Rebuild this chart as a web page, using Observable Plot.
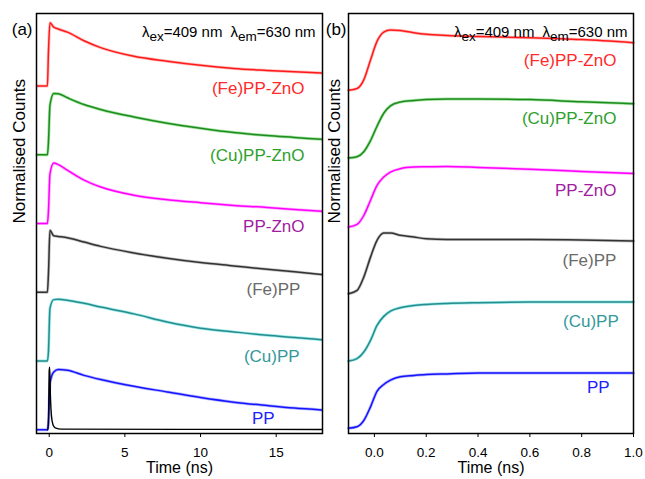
<!DOCTYPE html>
<html><head><meta charset="utf-8">
<script src="https://cdn.jsdelivr.net/npm/d3@7"></script>
<script src="https://cdn.jsdelivr.net/npm/@observablehq/plot@0.6"></script>
<style>
html,body{margin:0;padding:0;background:#fff;}
#wrap{position:relative;width:645px;height:479px;overflow:hidden;font-family:"Liberation Sans",Arial,sans-serif;}
#wrap > svg{position:absolute;top:0;}
</style></head><body><div id="wrap"></div>
<script>
// series order, bottom to top
const series = ["PP", "(Cu)PP", "(Fe)PP", "PP-ZnO", "(Cu)PP-ZnO", "(Fe)PP-ZnO"];
const fitColors = ["#1414ff", "#2a8c8c", "#333333", "#ff00ff", "#1e8c1e", "#ff1a1a"];
const rawColors = ["#5a5aff", "#1ad0d0", "#7a7a7a", "#ff55ff", "#33c033", "#ff6a6a"];
const labelColors = ["#2020ff", "#339999", "#6a6a6a", "#a01ca0", "#2ea02e", "#ff2a2a"];

// Panel (a): time-resolved decays, 0-18 ns
const timeA = [-0.8, -0.12, -0.05, 0.05, 0.3, 0.6, 1.2, 2.3, 3.4, 5.6, 7.8, 10, 12.2, 14.4, 16.2, 18];
const decayPP     = [0, 0, 0.10, 0.75, 0.93, 0.97, 0.96, 0.877, 0.81, 0.70, 0.61, 0.52, 0.445, 0.39, 0.35, 0.32];
const decayCuPP   = [0, 0, 0.15, 0.85, 0.99, 0.995, 0.98, 0.93, 0.87, 0.76, 0.63, 0.53, 0.47, 0.415, 0.38, 0.344];
const decayFePP   = [0, 0, 0.30, 1.00, 0.91, 0.90, 0.88, 0.81, 0.74, 0.635, 0.55, 0.48, 0.425, 0.37, 0.33, 0.285];
const decayPPZnO  = [0, 0, 0.20, 0.80, 0.976, 0.95, 0.86, 0.70, 0.59, 0.457, 0.385, 0.336, 0.293, 0.26, 0.225, 0.197];
const decayCuZnO  = [0, 0, 0.20, 0.80, 0.99, 0.985, 0.92, 0.81, 0.73, 0.61, 0.51, 0.43, 0.36, 0.31, 0.28, 0.25];
const decayFeZnO  = [0, 0, 0.55, 1.02, 0.95, 0.92, 0.87, 0.73, 0.62, 0.48, 0.40, 0.334, 0.285, 0.253, 0.23, 0.21];
const timeIRF = [-0.12, -0.08, -0.03, 0.0, 0.03, 0.08, 0.15, 0.25, 0.4, 0.8, 18];
const valIRF  = [0, 0, 0.4, 0.95, 1.01, 0.55, 0.22, 0.08, 0.03, 0.01, 0.005];

// Panel (b): rise region, -0.1 to 1.0 ns
const timeB = [-0.1, -0.067, -0.041, -0.015, 0.01, 0.036, 0.062, 0.1, 0.152, 0.2, 0.28, 0.4, 0.6, 0.8, 1.0];
const risePP     = [0.026, 0.05, 0.15, 0.37, 0.62, 0.73, 0.80, 0.855, 0.875, 0.89, 0.90, 0.915, 0.915, 0.915, 0.915];
const riseCuPP   = [0, 0.04, 0.145, 0.333, 0.574, 0.72, 0.805, 0.86, 0.895, 0.912, 0.928, 0.94, 0.95, 0.95, 0.95];
const riseFePP   = [-0.023, 0.03, 0.245, 0.567, 0.837, 0.955, 0.955, 0.918, 0.89, 0.865, 0.853, 0.853, 0.853, 0.845, 0.826];
const risePPZnO  = [-0.056, -0.013, 0.13, 0.375, 0.615, 0.75, 0.83, 0.885, 0.91, 0.915, 0.92, 0.905, 0.875, 0.84, 0.805];
const riseCuZnO  = [-0.05, -0.03, 0.05, 0.23, 0.46, 0.67, 0.79, 0.85, 0.875, 0.89, 0.90, 0.90, 0.89, 0.855, 0.825];
const riseFeZnO  = [-0.068, -0.04, 0.10, 0.42, 0.72, 0.87, 0.905, 0.895, 0.86, 0.835, 0.815, 0.80, 0.78, 0.75, 0.70];

// label anchors (data units: time, height above each trace's baseline)
const labelTimeA = [14.9, 16.55, 16.6, 16.87, 16.87, 16.87];
const labelLevelA = [0.177, 0.077, 0.047, -0.053, -0.01, -0.04];
const labelTimeB = [0.908, 0.943, 0.934, 0.934, 0.934, 0.934];
const labelLevelB = [0.688, 0.64, 0.515, 0.535, 0.584, 0.416];

const ticksA = [0, 5, 10, 15];
const ticksB = [0, 0.2, 0.4, 0.6, 0.8, 1.0];
const ANNOT = "λex=409 nm λem=630 nm";

const step = 1.108;
const yDomain = [-0.06, 6.71];
const FONT = "'Liberation Sans', Arial, sans-serif";

function rows(times, vals, i) { return times.map((t, k) => ({t, y: i * step + vals[k]})); }

function panel(o) {
  const marks = [];
  o.curves.forEach((vals, i) => {
    const d = rows(o.times, vals, i);
    marks.push(Plot.line(d, {x: "t", y: "y", stroke: rawColors[i], strokeWidth: 3, strokeOpacity: 0.45, curve: "monotone-x"}));
    marks.push(Plot.line(d, {x: "t", y: "y", stroke: fitColors[i], strokeWidth: 1.5, curve: "monotone-x"}));
  });
  if (o.irf) marks.push(Plot.line(rows(timeIRF, valIRF, 0), {x: "t", y: "y", stroke: "#000", strokeWidth: 1.4, curve: "monotone-x"}));
  const lab = series.map((s, i) => ({s, x: o.labelX[i], y: i * step + o.labelY[i], c: labelColors[i]}));
  marks.push(Plot.text(lab, {x: "x", y: "y", text: "s", fill: "c", textAnchor: "end", fontSize: 17}));
  marks.push(Plot.frame({stroke: "#000", strokeWidth: 1.5}));
  marks.push(Plot.axisX({ticks: o.ticks, tickFormat: o.fmt, tickSize: 4, tickPadding: 10, fontSize: 13.5, label: null}));
  marks.push(Plot.text(["Time (ns)"], {frameAnchor: "bottom", dy: 39.5, fontSize: 16}));
  marks.push(Plot.text(["Normalised Counts"], {frameAnchor: "left", rotate: -90, dx: o.yLabDx, fontSize: 17}));
  marks.push(Plot.text([o.tag], {frameAnchor: "top-left", textAnchor: "end", dx: o.tagDx, dy: 9, fontSize: 17}));
  marks.push(Plot.text([ANNOT], {frameAnchor: "top-right", textAnchor: "end", dx: o.annDx, dy: 13, fontSize: 15}));
  const svg = Plot.plot({
    width: o.width, height: 479,
    marginLeft: o.marginLeft, marginRight: o.marginRight, marginTop: 13, marginBottom: 46,
    x: {domain: o.xDomain},
    y: {domain: yDomain, axis: null},
    color: {type: "identity"},
    style: {fontFamily: FONT, background: "transparent", overflow: "visible", color: "#000"},
    marks
  });
  d3.select(svg).selectAll("text").filter(function () { return this.textContent === ANNOT; }).each(function () {
    const t = d3.select(this);
    t.text(null);
    t.append("tspan").text("λ");
    t.append("tspan").attr("dy", 4).attr("font-size", 13.5).text("ex");
    t.append("tspan").attr("dy", -4).text("=409 nm");
    t.append("tspan").attr("dx", 8).text("λ");
    t.append("tspan").attr("dy", 4).attr("font-size", 13.5).text("em");
    t.append("tspan").attr("dy", -4).text("=630 nm");
  });
  svg.style.left = o.left + "px";
  return svg;
}

const wrap = document.getElementById("wrap");
wrap.appendChild(panel({
  times: timeA, curves: [decayPP, decayCuPP, decayFePP, decayPPZnO, decayCuZnO, decayFeZnO], irf: true,
  xDomain: [-0.84, 18.06], ticks: ticksA, fmt: d3.format("d"),
  width: 323, marginLeft: 36, marginRight: 1, left: 0,
  labelX: labelTimeA, labelY: labelLevelA, tag: "(a)", tagDx: -4, yLabDx: -17, annDx: -7
}));
wrap.appendChild(panel({
  times: timeB, curves: [risePP, riseCuPP, riseFePP, risePPZnO, riseCuZnO, riseFeZnO], irf: false,
  xDomain: [-0.1, 1.0], ticks: ticksB, fmt: d3.format(".1f"),
  width: 322, marginLeft: 25, marginRight: 12, left: 323,
  labelX: labelTimeB, labelY: labelLevelB, tag: "(b)", tagDx: -2, yLabDx: -14, annDx: -6
}));
</script></body></html>
